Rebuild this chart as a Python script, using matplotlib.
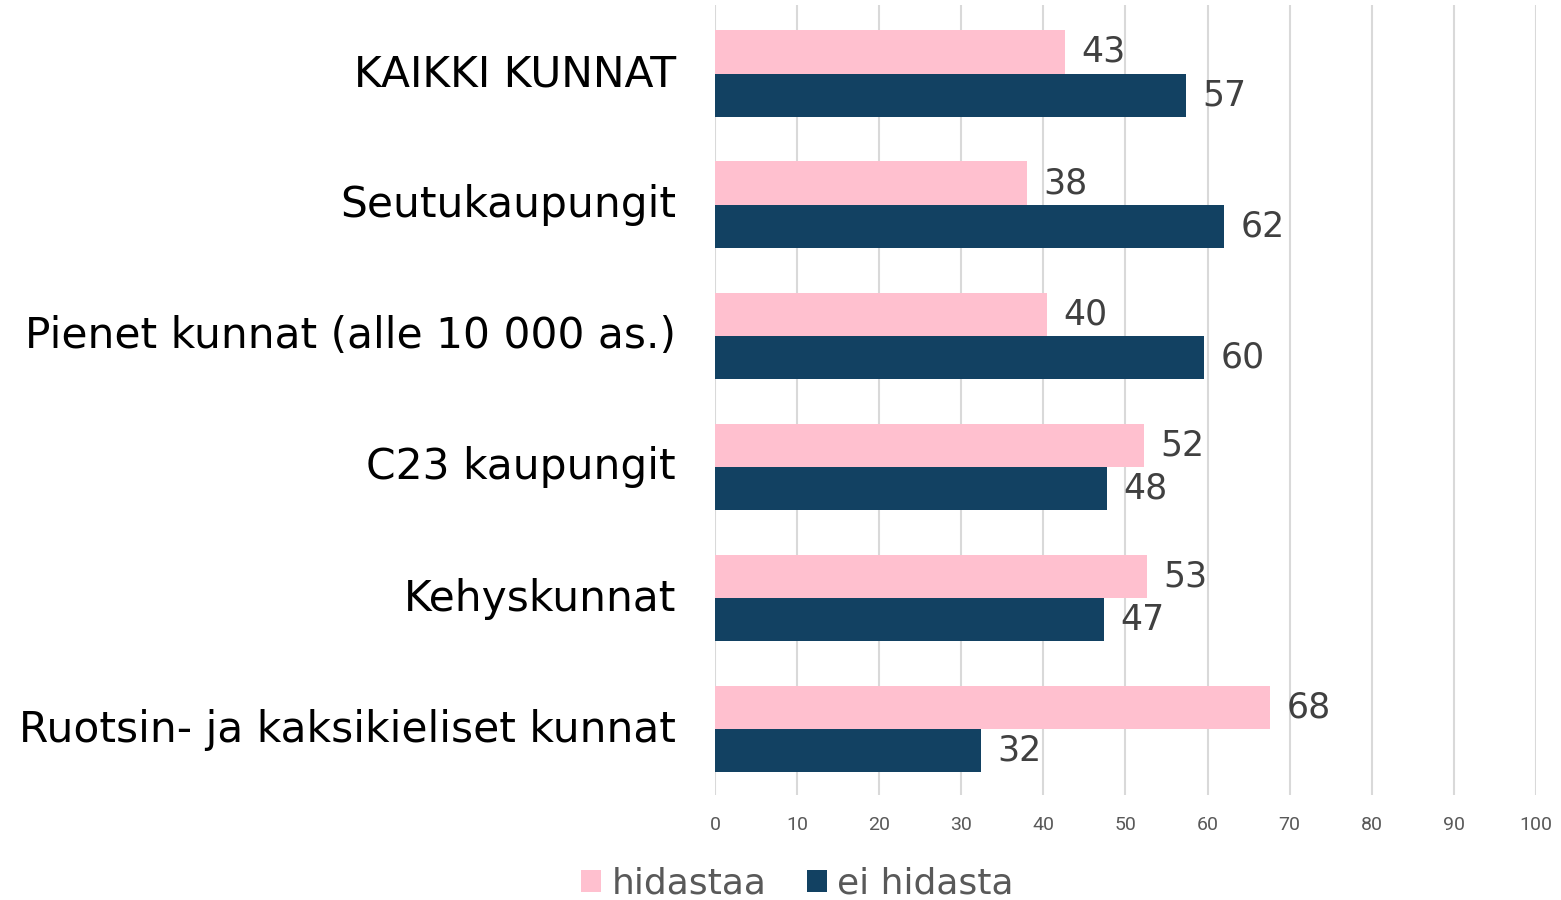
import numpy as np
import matplotlib
matplotlib.use("Agg")
import matplotlib.pyplot as plt
import matplotlib.transforms as mtransforms

categories = ["KAIKKI KUNNAT", "Seutukaupungit", "Pienet kunnat (alle 10 000 as.)",
              "C23 kaupungit", "Kehyskunnat", "Ruotsin- ja kaksikieliset kunnat"]
hidastaa = [42.6, 38.0, 40.4, 52.3, 52.6, 67.6]
ei_hidasta = [57.4, 62.0, 59.6, 47.7, 47.4, 32.4]
series_names = ["hidastaa", "ei hidasta"]
xticks = list(range(0, 101, 10))

pink = "#FFC0CF"
navy = "#124162"

plt.rcParams['font.family'] = ['DejaVu Sans']

fig = plt.figure(figsize=(15.61, 9), dpi=100)
ax = fig.add_axes([0.458, 0.117, 0.526, 0.877])

y = np.arange(len(categories))
h = 0.33
b1 = ax.barh(y - h / 2, hidastaa, height=h, color=pink, label=series_names[0], zorder=3)
b2 = ax.barh(y + h / 2, ei_hidasta, height=h, color=navy, label=series_names[1], zorder=3)

for bars, vals in ((b1, hidastaa), (b2, ei_hidasta)):
    for rect, v in zip(bars, vals):
        ax.text(rect.get_width() + 2, rect.get_y() + rect.get_height() / 2, f"{round(v)}",
                va="center", ha="left", fontsize=25, color="#404040")

ax.set_xlim(0, 100)
ax.set_ylim(5.5, -0.52)
ax.set_xticks(xticks)
ax.set_xticklabels([str(t) for t in xticks], fontfamily="Roboto", fontsize=14, color="#595959")
ax.set_yticks(y)
ax.set_yticklabels(categories, fontsize=30.5, color="#000000")
ax.tick_params(axis="y", length=0, pad=28)
ax.tick_params(axis="x", length=0, pad=15)
shift = mtransforms.ScaledTranslation(0, 4 / 100, fig.dpi_scale_trans)
for lbl in ax.get_yticklabels():
    lbl.set_transform(lbl.get_transform() + shift)
ax.grid(axis="x", color="#d9d9d9", linewidth=1.5, zorder=0)
for s in ax.spines.values():
    s.set_visible(False)

fig.legend(handles=[b1, b2], labels=series_names, loc="center", bbox_to_anchor=(0.511, 0.018),
           ncol=2, frameon=False, fontsize=26, labelcolor="#595959",
           handlelength=0.55, handleheight=0.55, handletextpad=0.3, columnspacing=1.1)

fig.savefig("out.png", dpi=100)
